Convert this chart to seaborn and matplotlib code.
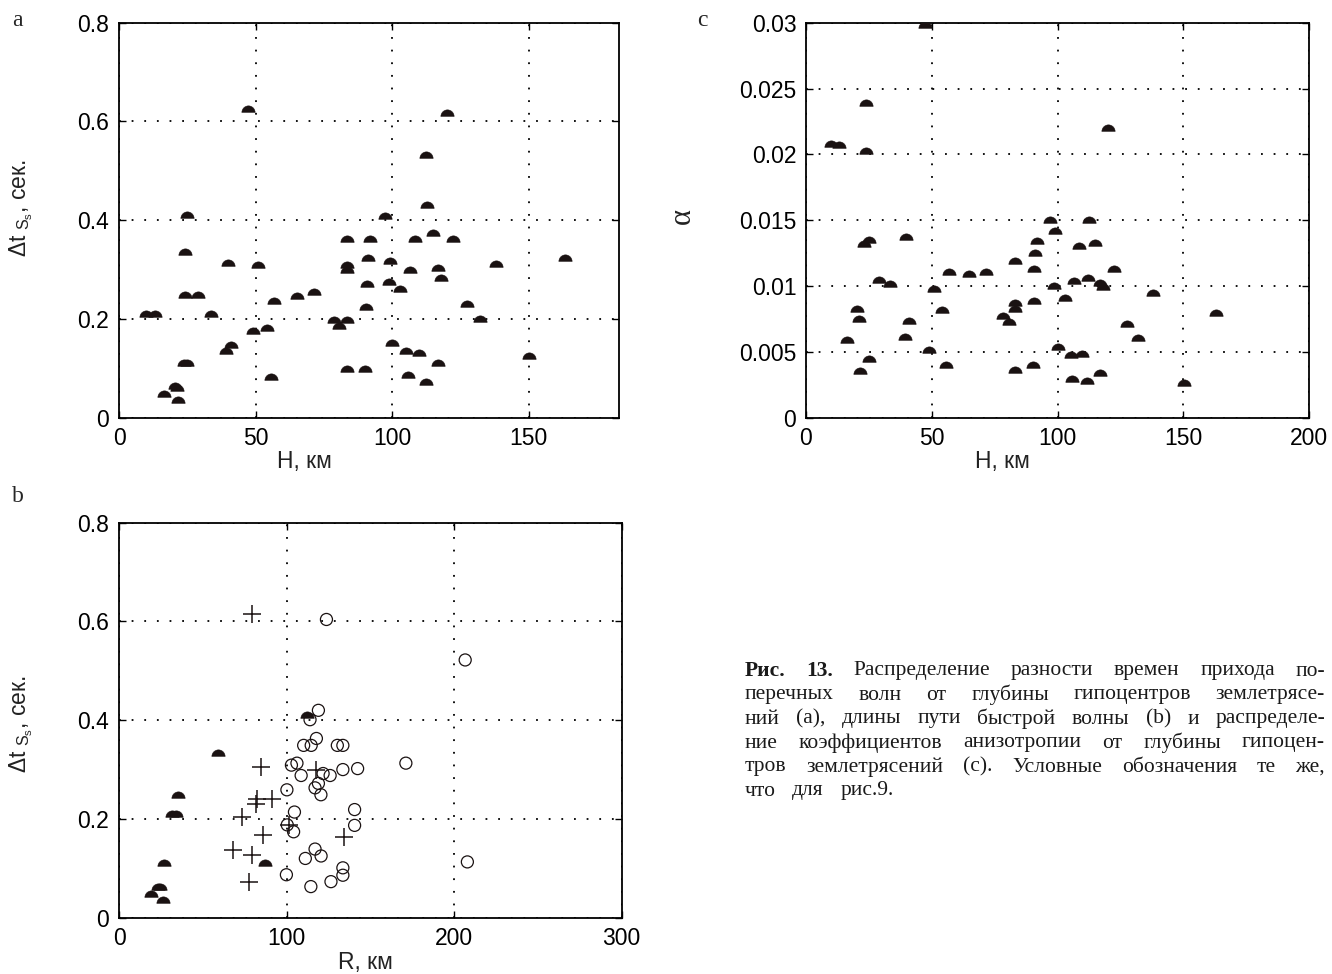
import numpy as np
import pandas as pd
import matplotlib
matplotlib.use("Agg")
import matplotlib.pyplot as plt
import seaborn as sns

# ---------------- data ----------------
# panel a: delay time vs hypocentre depth
a_depth = [9.7, 13.1, 16.5, 20.4, 21.3, 21.6, 23.7, 25.0, 24.0, 24.3, 25.0, 28.9, 33.5,
           39.3, 41.1, 40.0, 47.1, 49.2, 50.8, 54.1, 55.6, 56.8, 65.1, 71.5, 78.7, 80.6,
           83.6, 83.5, 83.5, 83.5, 83.5, 89.9, 92.0, 91.2, 90.9, 90.3, 97.3, 99.1, 98.8,
           100.0, 103.0, 105.2, 105.8, 108.5, 106.6, 109.7, 112.2, 112.7, 112.2, 115.0,
           116.7, 117.9, 116.7, 120.1, 122.2, 127.4, 132.3, 138.0, 150.1, 163.3]
a_dt = [0.204, 0.204, 0.042, 0.058, 0.055, 0.030, 0.105, 0.105, 0.243, 0.329, 0.405, 0.243,
        0.204, 0.130, 0.142, 0.308, 0.620, 0.169, 0.303, 0.175, 0.077, 0.231, 0.241, 0.248,
        0.191, 0.179, 0.192, 0.355, 0.304, 0.293, 0.092, 0.092, 0.355, 0.317, 0.265, 0.218,
        0.403, 0.312, 0.268, 0.146, 0.255, 0.130, 0.080, 0.355, 0.293, 0.125, 0.526, 0.424,
        0.067, 0.367, 0.298, 0.277, 0.105, 0.611, 0.355, 0.225, 0.193, 0.306, 0.118, 0.317]

# panel c: anisotropy coefficient vs hypocentre depth
c_depth = [9.9, 13.2, 16.4, 20.2, 21.2, 21.6, 23.8, 23.9, 23.1, 25.0, 25.0, 28.9, 33.5,
           39.2, 40.9, 39.7, 47.2, 48.9, 50.8, 54.1, 55.6, 56.8, 65.0, 71.5, 78.2, 80.6,
           83.3, 83.3, 83.3, 83.3, 90.1, 90.5, 90.8, 91.0, 91.7, 97.2, 98.9, 98.5, 100.1,
           102.8, 105.4, 105.7, 108.5, 106.6, 109.8, 112.4, 112.2, 111.9, 115.0, 116.7,
           117.9, 116.7, 120.1, 122.3, 127.6, 132.2, 138.0, 150.2, 163.2]
c_alpha = [0.02057, 0.0205, 0.00567, 0.0080, 0.00726, 0.00331, 0.02365, 0.02006, 0.01298,
           0.01326, 0.00422, 0.0102, 0.00989, 0.0059, 0.00713, 0.01351, 0.02957, 0.00493,
           0.00951, 0.00797, 0.00374, 0.0108, 0.01067, 0.01083, 0.00746, 0.00706, 0.00339,
           0.0080, 0.0085, 0.01166, 0.00377, 0.0086, 0.01105, 0.0123, 0.0132, 0.0148,
           0.01396, 0.00976, 0.00511, 0.0089, 0.00453, 0.00268, 0.0128, 0.01017, 0.00463,
           0.01482, 0.01042, 0.00253, 0.01305, 0.01002, 0.00969, 0.00319, 0.02178, 0.0111,
           0.0069, 0.00584, 0.00921, 0.00238, 0.00771]

# panel b: delay time vs fast-wave path length, three groups
b_half_R = [19.3, 23.3, 24.4, 26.1, 26.6, 31.9, 33.9, 35.2, 59.3, 87.4, 112.0]
b_half_dt = [0.042, 0.057, 0.057, 0.029, 0.104, 0.203, 0.203, 0.242, 0.327, 0.104, 0.404]

b_cross_R = [79.6, 84.9, 117.3, 82.6, 81.8, 91.6, 73.6, 101.7, 86.1, 67.8, 79.1, 77.8, 134.0]
b_cross_dt = [0.615, 0.305, 0.300, 0.241, 0.231, 0.241, 0.203, 0.187, 0.168, 0.138, 0.127,
              0.073, 0.164]

b_circ_R = [123.8, 206.6, 119.0, 114.0, 117.8, 110.2, 114.7, 130.3, 133.6, 102.9, 106.2,
            108.7, 121.8, 126.0, 133.6, 142.4, 171.2, 119.0, 117.0, 120.5, 100.2, 104.7,
            140.6, 100.4, 104.2, 140.6, 117.0, 111.2, 120.6, 133.6, 133.6, 99.9, 126.5,
            114.5, 207.9]
b_circ_dt = [0.604, 0.522, 0.420, 0.401, 0.363, 0.349, 0.349, 0.349, 0.349, 0.309, 0.313,
             0.288, 0.292, 0.288, 0.300, 0.302, 0.313, 0.272, 0.263, 0.249, 0.259, 0.214,
             0.219, 0.188, 0.174, 0.187, 0.139, 0.120, 0.125, 0.101, 0.086, 0.087, 0.073,
             0.063, 0.113]

a_xticks = [0, 50, 100, 150]
c_xticks = [0, 50, 100, 150, 200]
b_xticks = [0, 100, 200, 300]
dt_yticks = [0, 0.2, 0.4, 0.6, 0.8]
dt_yticklabels = ["0", "0.2", "0.4", "0.6", "0.8"]
alpha_yticks = [0, 0.005, 0.01, 0.015, 0.02, 0.025, 0.03]
alpha_yticklabels = ["0", "0.005", "0.01", "0.015", "0.02", "0.025", "0.03"]

caption_lines = [
    ["**Рис.", "**13.", "Распределение", "разности", "времен", "прихода", "по-"],
    ["перечных", "волн", "от", "глубины", "гипоцентров", "землетрясе-"],
    ["ний", "(a),", "длины", "пути", "быстрой", "волны", "(b)", "и", "распределе-"],
    ["ние", "коэффициентов", "анизотропии", "от", "глубины", "гипоцен-"],
    ["тров", "землетрясений", "(c).", "Условные", "обозначения", "те", "же,"],
    ["что", "для", "рис.9."],
]

# ---------------- style ----------------
sns.set_theme(style="ticks")
plt.rcParams["font.family"] = ["Liberation Sans", "DejaVu Sans"]
plt.rcParams["mathtext.default"] = "regular"

fig = plt.figure(figsize=(13.32, 9.74), dpi=100)
W, H = 1332, 974


def axes_px(left, top, right, bottom):
    return fig.add_axes([left / W, 1 - bottom / H, (right - left) / W, (bottom - top) / H])


axA = axes_px(119, 22.7, 619, 417.7)
axC = axes_px(806, 22.7, 1309, 417.7)
axB = axes_px(119, 522.7, 621.7, 917.7)

theta = np.linspace(0, np.pi, 30)
half_disk = np.column_stack([np.cos(theta), np.sin(theta)])
half_disk = np.vstack([half_disk, [[1.0, 0.0]]])

HALF_S = 92
INK = "#1a1212"

dfa = pd.DataFrame({"H": a_depth, "dt": a_dt})
sns.scatterplot(data=dfa, x="H", y="dt", ax=axA, marker=half_disk, s=HALF_S,
                color=INK, edgecolor=INK, linewidth=0.3, legend=False, zorder=3)

dfc = pd.DataFrame({"H": c_depth, "alpha": c_alpha})
sns.scatterplot(data=dfc, x="H", y="alpha", ax=axC, marker=half_disk, s=HALF_S,
                color=INK, edgecolor=INK, linewidth=0.3, legend=False, zorder=3)

dfbh = pd.DataFrame({"R": b_half_R, "dt": b_half_dt})
dfbx = pd.DataFrame({"R": b_cross_R, "dt": b_cross_dt})
dfbo = pd.DataFrame({"R": b_circ_R, "dt": b_circ_dt})
sns.scatterplot(data=dfbh, x="R", y="dt", ax=axB, marker=half_disk, s=HALF_S,
                color=INK, edgecolor=INK, linewidth=0.3, legend=False, zorder=3)
sns.scatterplot(data=dfbx, x="R", y="dt", ax=axB, marker="+", s=150,
                color=INK, linewidth=1.1, legend=False, zorder=3)
sns.scatterplot(data=dfbo, x="R", y="dt", ax=axB, marker="o", s=75,
                facecolor="none", edgecolor=INK, linewidth=0.9, legend=False, zorder=3)


def style(ax, xlim, xticks, ylim, yticks, yticklabels):
    ax.set_xlim(*xlim)
    ax.set_ylim(*ylim)
    ax.set_xticks(xticks)
    ax.set_xticklabels([str(t) for t in xticks])
    ax.set_yticks(yticks)
    ax.set_yticklabels(yticklabels)
    ax.tick_params(direction="in", top=True, right=True, length=5, width=1.0,
                   labelsize=16.5, colors="black", pad=7)
    ax.grid(True, color="black", linestyle=(0, (1, 6)), linewidth=1.3)
    for sp in ax.spines.values():
        sp.set_linewidth(1.3)
        sp.set_color("black")
        sp.set_visible(True)
    ax.set_facecolor("white")


style(axA, (0, 183), a_xticks, (0, 0.8), dt_yticks, dt_yticklabels)
style(axC, (0, 200), c_xticks, (0, 0.03), alpha_yticks, alpha_yticklabels)
style(axB, (0, 300), b_xticks, (0, 0.8), dt_yticks, dt_yticklabels)

lab_kw = dict(fontsize=16.5, color="#222222")
axA.set_xlabel("H, км", **lab_kw)
axA.xaxis.set_label_coords(0.37, -0.082)
axC.set_xlabel("H, км", **lab_kw)
axC.xaxis.set_label_coords(0.39, -0.082)
axB.set_xlabel("R, км", **lab_kw)
axB.xaxis.set_label_coords(0.49, -0.084)

axA.set_ylabel("Δt$_{\\ S_s}$, сек.", **lab_kw)
axA.yaxis.set_label_coords(-0.168, 0.53)
axB.set_ylabel("Δt$_{\\ S_s}$, сек.", **lab_kw)
axB.yaxis.set_label_coords(-0.168, 0.49)
axC.set_ylabel("α", fontsize=22, family=["Liberation Serif", "DejaVu Serif"], color="#222222")
axC.yaxis.set_label_coords(-0.217, 0.51)

serif = ["Liberation Serif", "DejaVu Serif"]
fig.text(12 / W, 1 - 20 / H, "a", fontsize=17, family=serif, ha="left", va="center")
fig.text(12 / W, 1 - 497 / H, "b", fontsize=17, family=serif, ha="left", va="center")
fig.text(697 / W, 1 - 20 / H, "c", fontsize=17, family=serif, ha="left", va="center")

# ---------------- caption (justified word by word) ----------------
renderer = fig.canvas.get_renderer()
cap_left, cap_right = 745, 1325
line_y = [671, 695, 719, 743, 767, 791]
gaps = []
for i, words in enumerate(caption_lines):
    texts = []
    for w in words:
        bold = w.startswith("**")
        s = w[2:] if bold else w
        t = fig.text(0, 1 - line_y[i] / H, s, fontsize=15.5, family=serif,
                     fontweight="bold" if bold else "normal", ha="left", va="center",
                     color="#1a1a1a")
        texts.append(t)
    widths = [t.get_window_extent(renderer).width for t in texts]
    if i < len(caption_lines) - 1:
        gap = (cap_right - cap_left - sum(widths)) / (len(texts) - 1)
        gaps.append(gap)
    else:
        gap = float(min(gaps))
    x = cap_left
    for t, wdt in zip(texts, widths):
        t.set_x(x / W)
        x += wdt + gap

fig.savefig("out.png", dpi=100, facecolor="white")
